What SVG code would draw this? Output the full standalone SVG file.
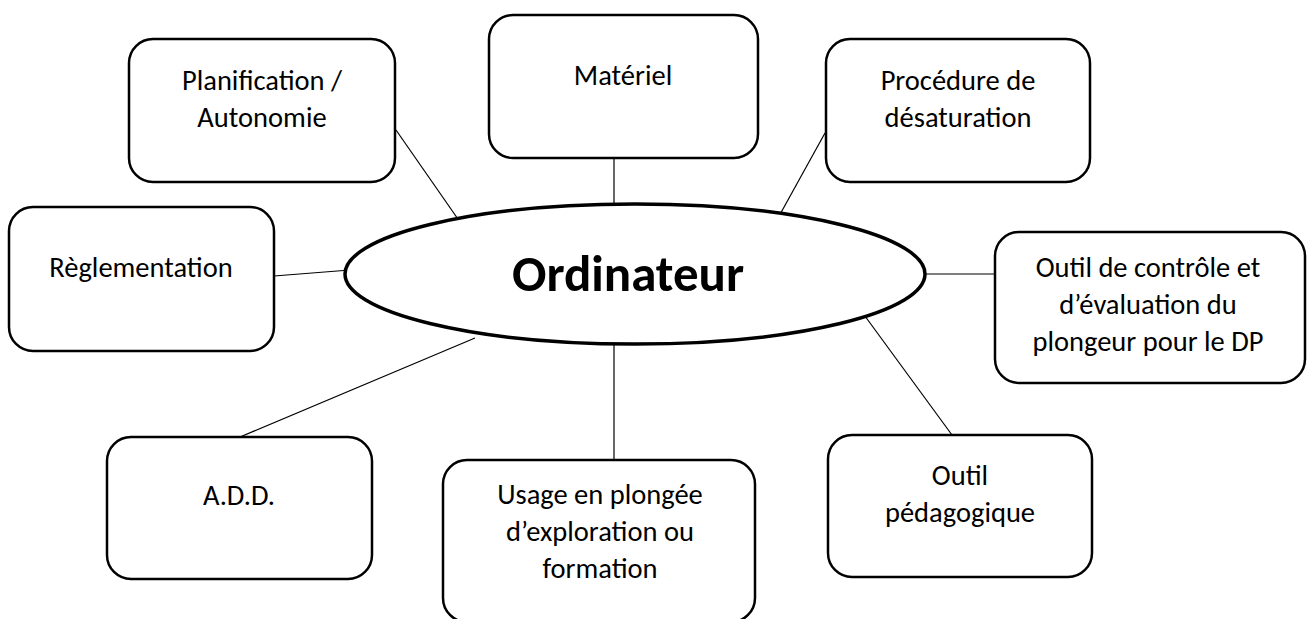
<svg xmlns="http://www.w3.org/2000/svg" width="1312" height="619" viewBox="0 0 1312 619">
  <style>
    .box { fill: #ffffff; stroke: #000000; stroke-width: 2.5; }
    .hub { fill: #ffffff; stroke: #000000; stroke-width: 3.5; }
    .conn { stroke: #000000; stroke-width: 1.2; fill: none; }
    .lbl { font-family: Carlito, Calibri, Lato, "Open Sans", sans-serif; font-size: 28.5px; fill: #000000; text-anchor: middle; }
    .hubtxt { font-family: Carlito, Calibri, Lato, "Open Sans", sans-serif; font-size: 51px; font-weight: bold; fill: #000000; text-anchor: middle; }
  </style>
  <rect width="1312" height="619" fill="#ffffff"/>
  <g id="connectors">
    <line class="conn" x1="396" y1="130" x2="460" y2="222"/>
    <line class="conn" x1="614" y1="158" x2="614" y2="210"/>
    <line class="conn" x1="825" y1="133" x2="778" y2="218"/>
    <line class="conn" x1="274" y1="276" x2="350" y2="270"/>
    <line class="conn" x1="995" y1="274" x2="920" y2="274"/>
    <line class="conn" x1="240" y1="437" x2="475" y2="338"/>
    <line class="conn" x1="614" y1="460" x2="614" y2="338"/>
    <line class="conn" x1="952" y1="435" x2="862" y2="312"/>
  </g>
  <g id="hub">
    <ellipse class="hub" cx="635" cy="274" rx="290" ry="70"/>
    <text class="hubtxt" x="628" y="291">Ordinateur</text>
  </g>
  <g id="node-planification">
    <rect class="box" x="129" y="39" width="266" height="143" rx="24"/>
    <text class="lbl" x="262" y="90">Planification /</text>
    <text class="lbl" x="262" y="127">Autonomie</text>
  </g>
  <g id="node-materiel">
    <rect class="box" x="489" y="15" width="269" height="143" rx="24"/>
    <text class="lbl" x="623" y="85">Matériel</text>
  </g>
  <g id="node-procedure">
    <rect class="box" x="826" y="39" width="264" height="143" rx="24"/>
    <text class="lbl" x="958" y="90">Procédure de</text>
    <text class="lbl" x="958" y="127">désaturation</text>
  </g>
  <g id="node-reglementation">
    <rect class="box" x="9" y="207" width="265" height="144" rx="24"/>
    <text class="lbl" x="141" y="277">Règlementation</text>
  </g>
  <g id="node-outil-controle">
    <rect class="box" x="995" y="232" width="310" height="151" rx="24"/>
    <text class="lbl" x="1148" y="277">Outil de contrôle et</text>
    <text class="lbl" x="1148" y="314">d’évaluation du</text>
    <text class="lbl" x="1148" y="351">plongeur pour le DP</text>
  </g>
  <g id="node-add">
    <rect class="box" x="107" y="437" width="265" height="142" rx="24"/>
    <text class="lbl" x="239" y="505">A.D.D.</text>
  </g>
  <g id="node-usage">
    <rect class="box" x="443" y="460" width="312" height="162" rx="24"/>
    <text class="lbl" x="600" y="504">Usage en plongée</text>
    <text class="lbl" x="600" y="541">d’exploration ou</text>
    <text class="lbl" x="600" y="578">formation</text>
  </g>
  <g id="node-pedagogique">
    <rect class="box" x="828" y="435" width="264" height="142" rx="24"/>
    <text class="lbl" x="960" y="485">Outil</text>
    <text class="lbl" x="960" y="522">pédagogique</text>
  </g>
</svg>
